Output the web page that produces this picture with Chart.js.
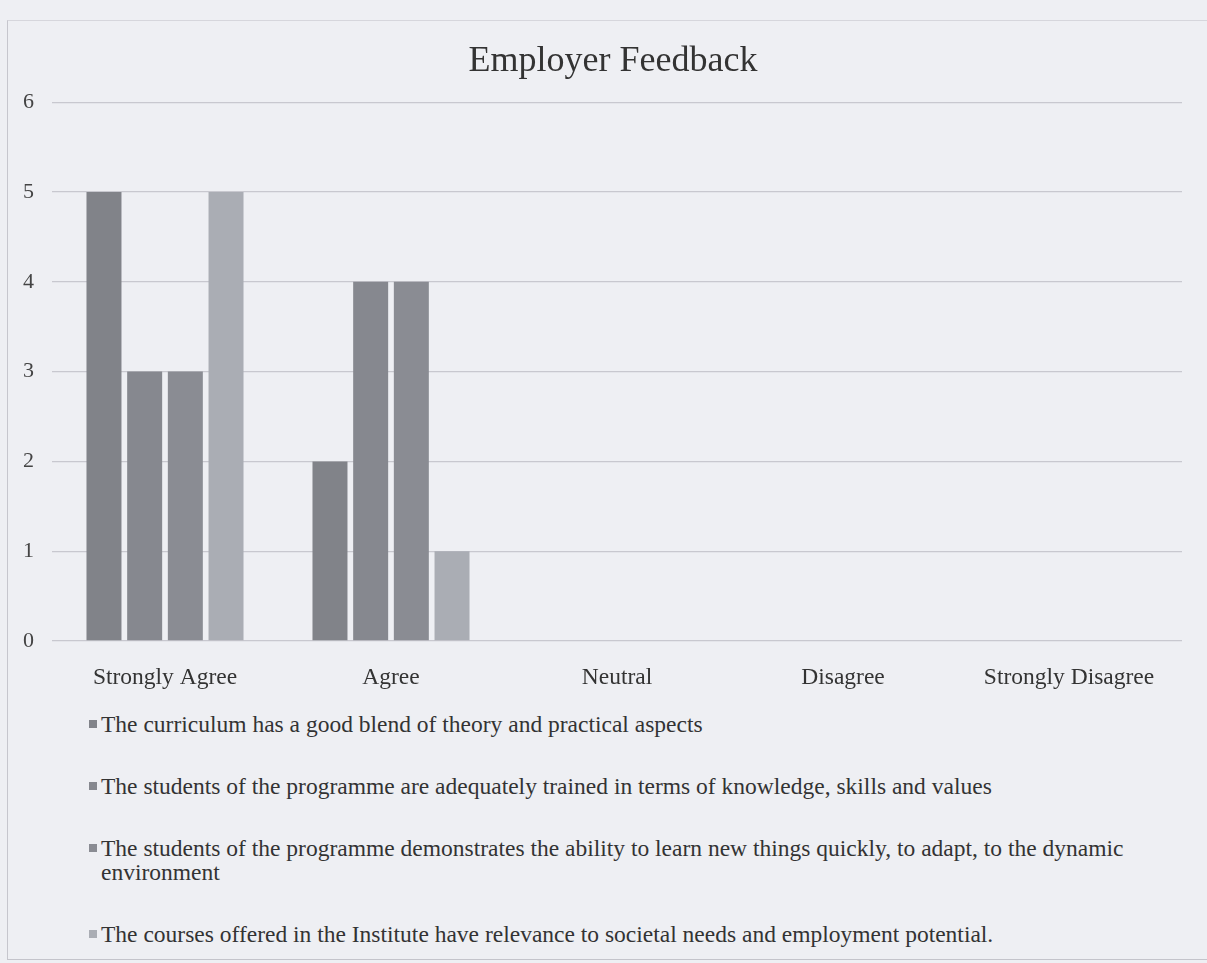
<!DOCTYPE html>
<html lang="en">
<head>
  <meta charset="UTF-8" />
  <title>Employer Feedback</title>
  <style>
    html, body {
      margin: 0;
      padding: 0;
      background-color: #eeeff3;
    }
    .frame {
      position: relative;
      width: 1207px;
      height: 963px;
      overflow: hidden;
    }
    .outline {
      position: absolute;
      left: 7px;
      top: 20px;
      width: 1210px;
      height: 940px;
      box-sizing: border-box;
      border-left: 1px solid #c6c6cd;
      border-top: 1px solid #d6d6dc;
      border-bottom: 1px solid #c4c4cb;
    }
    #chartBox {
      position: absolute;
      left: 0;
      top: 0;
      width: 1207px;
      height: 700px;
    }
    #legend {
      position: absolute;
      left: 89px;
      top: 712px;
      width: 1060px;
      font-family: 'Liberation Serif', 'Times New Roman', serif;
      font-size: 23.5px;
      color: #333;
      line-height: 24px;
    }
    .item {
      display: flex;
      align-items: flex-start;
      margin-bottom: 38px;
    }
    .item span.text { max-width: 1045px; }
    .swatch {
      width: 8px;
      height: 8px;
      margin-top: 8px;
      margin-right: 4px;
      flex: none;
    }
  </style>
</head>
<body>
  <div class="frame">
    <div class="outline"></div>
    <div id="chartBox"><canvas id="feedbackChart"></canvas></div>
    <div id="legend"></div>
  </div>
  <script src="https://cdn.jsdelivr.net/npm/chart.js"></script>
  <script>
    const categories = ["Strongly Agree", "Agree", "Neutral", "Disagree", "Strongly Disagree"];
    const statements = [
      "The curriculum has a good blend of theory and practical aspects",
      "The students of the programme are adequately trained in terms of knowledge, skills and values",
      "The students of the programme demonstrates the ability to learn new things quickly, to adapt, to the dynamic environment",
      "The courses offered in the Institute have relevance to societal needs and employment potential."
    ];
    const curriculum = [5, 2, 0, 0, 0];
    const trained = [3, 4, 0, 0, 0];
    const adapt = [3, 4, 0, 0, 0];
    const relevance = [5, 1, 0, 0, 0];
    const yTicks = [0, 1, 2, 3, 4, 5, 6];

    const seriesValues = [curriculum, trained, adapt, relevance];
    const colors = ['#818389', '#86888f', '#8a8c93', '#aaadb4'];

    const serif = "'Liberation Serif', 'Times New Roman', serif";

    // legend as html so the long labels can wrap like the original
    const legend = document.getElementById('legend');
    statements.forEach((s, i) => {
      const div = document.createElement('div');
      div.className = 'item';
      div.innerHTML = `<span class="swatch" style="background:${colors[i]}"></span><span class="text">${s}</span>`;
      legend.appendChild(div);
    });

    // the original title sits a bit right of the canvas centre
    const titleShift = {
      id: 'titleShift',
      afterLayout(chart) {
        if (chart.titleBlock) chart.titleBlock.left += 44;
      }
    };

    new Chart(document.getElementById('feedbackChart'), {
      type: 'bar',
      data: {
        labels: categories,
        datasets: seriesValues.map((vals, i) => ({
          label: statements[i],
          data: vals,
          backgroundColor: colors[i],
          categoryPercentage: 0.72,
          barPercentage: 0.86
        }))
      },
      options: {
        responsive: true,
        maintainAspectRatio: false,
        animation: false,
        layout: { padding: { left: 0, right: 25, top: 0, bottom: 0 } },
        plugins: {
          legend: { display: false },
          tooltip: { enabled: false },
          title: {
            display: true,
            text: 'Employer Feedback',
            color: '#333',
            font: { family: serif, size: 36, weight: 'normal' },
            padding: { top: 40, bottom: 19 }
          }
        },
        scales: {
          x: {
            grid: { display: false },
            border: { display: false },
            ticks: {
              color: '#333',
              padding: 15,
              font: { family: serif, size: 23.5 }
            },
            afterFit: scale => { scale.height = 59; }
          },
          y: {
            min: 0,
            max: 6,
            afterBuildTicks: scale => { scale.ticks = yTicks.map(v => ({ value: v })); },
            grid: { color: '#c8c8cf', lineWidth: 1.3, drawTicks: false },
            border: { display: false },
            ticks: {
              color: '#444',
              padding: 18,
              font: { family: serif, size: 22 }
            },
            afterFit: scale => { scale.width = 52; }
          }
        }
      },
      plugins: [titleShift]
    });
  </script>
</body>
</html>
